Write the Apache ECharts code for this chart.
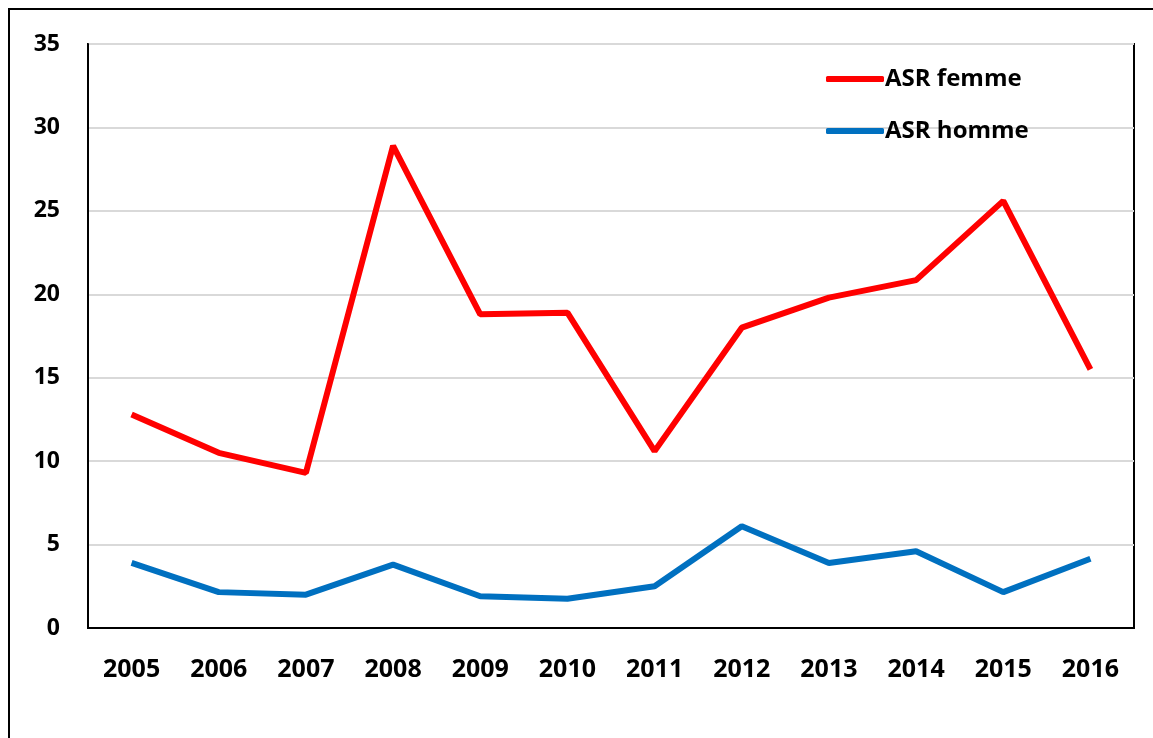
<!DOCTYPE html>
<html>
<head>
<meta charset="utf-8">
<script src="https://cdn.jsdelivr.net/npm/echarts@6/dist/echarts.min.js"></script>
<style>
html, body { margin: 0; padding: 0; background: #fff; }
#frame {
  position: absolute; left: 8px; top: 8px; width: 1160px; height: 740px;
  border-left: 2px solid #000; border-top: 2px solid #000;
}
#chart { position: absolute; left: 0; top: 0; width: 1153px; height: 738px; }
</style>
</head>
<body>
<div id="frame"></div>
<div id="chart"></div>
<script>
const years = ['2005','2006','2007','2008','2009','2010','2011','2012','2013','2014','2015','2016']
const asrFemme = [12.8, 10.5, 9.3, 28.9, 18.8, 18.9, 10.6, 18.0, 19.8, 20.85, 25.6, 15.5]
const asrHomme = [3.9, 2.15, 2.0, 3.8, 1.9, 1.75, 2.5, 6.1, 3.9, 4.6, 2.15, 4.15]

const font = '"Open Sans", Lato, sans-serif'
const chart = echarts.init(document.getElementById('chart'))
chart.setOption({
  animation: false,
  grid: {
    left: 88, top: 44, right: 19, bottom: 110,
    show: true, borderColor: '#000', borderWidth: 2
  },
  legend: {
    orient: 'vertical',
    left: 826, top: 67, padding: 0,
    itemWidth: 58, itemHeight: 6, itemGap: 28,
    icon: 'roundRect',
    textStyle: { fontFamily: font, fontWeight: 'bold', fontSize: 24, color: '#000', padding: [0, 0, 0, -4] },
    data: ['ASR femme', 'ASR homme']
  },
  xAxis: {
    type: 'category',
    data: years,
    axisTick: { show: false },
    axisLine: { lineStyle: { color: '#000', width: 2 } },
    axisLabel: { fontFamily: font, fontWeight: 'bold', fontSize: 25, color: '#000', margin: 29 }
  },
  yAxis: {
    type: 'value',
    min: 0, max: 35, interval: 5,
    axisLine: { show: true, lineStyle: { color: '#000', width: 2 } },
    axisTick: { show: false },
    splitLine: { lineStyle: { color: '#d9d9d9', width: 2 } },
    axisLabel: { fontFamily: font, fontWeight: 'bold', fontSize: 23, color: '#000', margin: 28 }
  },
  series: [
    {
      name: 'ASR femme', type: 'line', data: asrFemme,
      symbol: 'none', color: '#ff0000',
      lineStyle: { width: 6, color: '#ff0000' }
    },
    {
      name: 'ASR homme', type: 'line', data: asrHomme,
      symbol: 'none', color: '#0070c0',
      lineStyle: { width: 6, color: '#0070c0' }
    }
  ]
})
</script>
</body>
</html>
